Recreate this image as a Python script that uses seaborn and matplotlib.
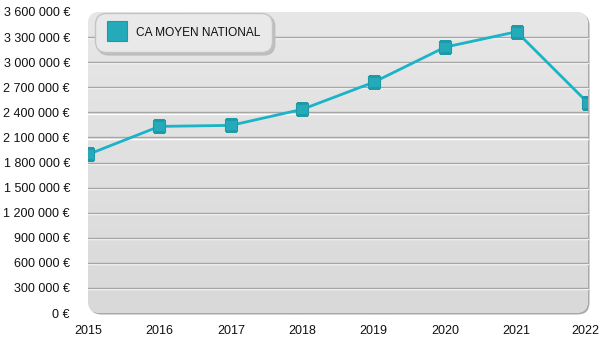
import numpy as np
import pandas as pd
import seaborn as sns
import matplotlib
matplotlib.use("Agg")
import matplotlib.pyplot as plt
from matplotlib.patches import FancyBboxPatch
from matplotlib.lines import Line2D
from matplotlib.ticker import FuncFormatter, FixedLocator
import matplotlib.transforms as mtransforms

# Average national revenue per year
years = [2015, 2016, 2017, 2018, 2019, 2020, 2021, 2022]
ca_moyen = [1896000, 2232000, 2244000, 2436000, 2760000, 3180000, 3364000, 2512000]
series_name = "CA MOYEN NATIONAL"
y_ticks = [0, 300000, 600000, 900000, 1200000, 1500000, 1800000,
           2100000, 2400000, 2700000, 3000000, 3300000, 3600000]

df = pd.DataFrame({"annee": years, "ca": ca_moyen})

sns.set_theme(style="white")
plt.rcParams["font.family"] = ["Liberation Sans", "DejaVu Sans"]

LINE = "#1bb3c7"
MARK = "#25aab9"
MARK_EDGE = "#1d9aa8"

fig = plt.figure(figsize=(6, 3.5), dpi=100)
fig.patch.set_facecolor("white")
ax = fig.add_axes([88 / 600, 37 / 350, 500 / 600, 301 / 350])
ax.set_xlim(2015, 2022)
ax.set_ylim(0, 3600000)
ax.patch.set_visible(False)
for s in ax.spines.values():
    s.set_visible(False)

# rounded panel in inch units so the corners stay circular
x0, y0, w, h = 0.88, 0.37, 5.0, 3.01
shadow = FancyBboxPatch((x0 + 0.015, y0 - 0.015), w, h,
                        boxstyle="round,pad=0,rounding_size=0.12",
                        transform=fig.dpi_scale_trans, facecolor="#a9a9a9",
                        edgecolor="none", zorder=0, clip_on=False)
ax.add_patch(shadow)
panel = FancyBboxPatch((x0, y0), w, h,
                       boxstyle="round,pad=0,rounding_size=0.12",
                       transform=fig.dpi_scale_trans, facecolor="#e2e2e2",
                       edgecolor="none", zorder=0.5, clip_on=False)
ax.add_patch(panel)

# vertical gradient fill of the panel, lighter at the top
grad = np.linspace(0, 1, 256).reshape(-1, 1)
cmap = matplotlib.colors.LinearSegmentedColormap.from_list("bg", ["#e7e7e7", "#d9d9d9"])
img = ax.imshow(grad, extent=(2015, 2022, 0, 3600000), origin="upper",
                aspect="auto", cmap=cmap, zorder=0.6, interpolation="bilinear")
img.set_clip_path(panel)

# embossed grid lines: grey line with a white highlight just below
white_off = mtransforms.offset_copy(ax.transData, fig=fig, x=0, y=-1.2, units="dots")
for yv in y_ticks[1:-1]:
    ax.plot([2015, 2022], [yv, yv], color="white", lw=1.0, zorder=1,
            transform=white_off, clip_on=False)
    ax.plot([2015, 2022], [yv, yv], color="#a6a6a6", lw=1.0, zorder=1.1,
            clip_on=False)

sns.lineplot(data=df, x="annee", y="ca", ax=ax, color=LINE, lw=2,
             marker="s", markersize=8.5, markerfacecolor=MARK,
             markeredgecolor=MARK_EDGE, markeredgewidth=0.8, zorder=3,
             legend=False)
for ln in ax.lines[-1:]:
    ln.set_clip_path(panel)

ax.yaxis.set_major_locator(FixedLocator(y_ticks))
ax.yaxis.set_major_formatter(
    FuncFormatter(lambda v, p: f"{int(v):,}".replace(",", " ") + " €"))
ax.set_xticks(years)
ax.set_xticklabels([str(y) for y in years])
ax.tick_params(axis="y", length=0, pad=13, labelsize=9, labelcolor="#111111")
ax.tick_params(axis="x", length=0, pad=9, labelsize=9, labelcolor="#111111")
ax.set_xlabel("")
ax.set_ylabel("")
# keep the last year label inside the canvas
last = ax.get_xticklabels()[-1]
last.set_transform(last.get_transform() +
                   mtransforms.ScaledTranslation(-2.5 / 100, 0, fig.dpi_scale_trans))

handle = Line2D([], [], linestyle="none", marker="s", markersize=14.8,
                markerfacecolor=MARK, markeredgecolor=MARK_EDGE, markeredgewidth=0.8)
leg = ax.legend([handle], [series_name], loc="upper left",
                bbox_to_anchor=(0.014, 0.997), frameon=True, fancybox=True,
                shadow={"color": "#bdbdbd", "alpha": 1.0}, fontsize=8.6,
                facecolor="#e9e9e9", edgecolor="#c4c4c4", framealpha=1,
                borderpad=1.0, handletextpad=0.7, borderaxespad=0.0,
                handlelength=1.7, handleheight=1.6)
leg.get_frame().set_linewidth(1.0)
leg.get_frame().set_boxstyle("round,pad=0,rounding_size=0.9")
leg.set_zorder(5)
for t in leg.get_texts():
    t.set_color("#111111")

fig.savefig("out.png", dpi=100, facecolor="white")
